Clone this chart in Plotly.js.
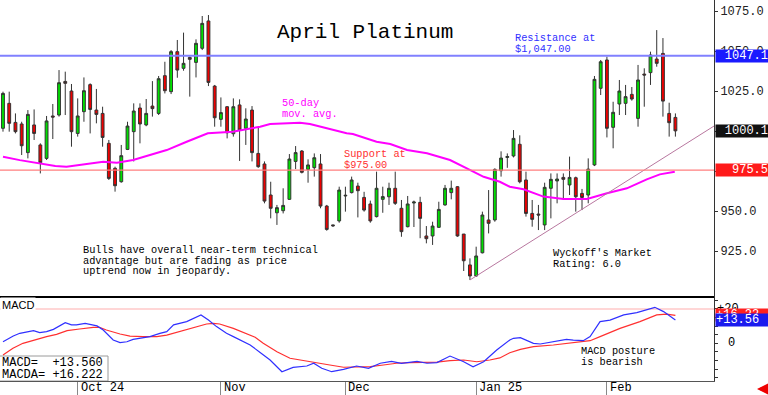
<!DOCTYPE html>
<html>
<head>
<meta charset="utf-8">
<script src="https://cdn.plot.ly/plotly-3.0.1.min.js"></script>
<style>html,body{margin:0;padding:0;background:#fff;}#chart{width:768px;height:395px;}</style>
</head>
<body>
<div id="chart"></div>
<script>
// ---------- DATA ----------
const candleIdx = Array.from({length: 109}, (_, i) => i + 1); // trading-day index (Sep 13 2024 .. Feb 19 2025)
const openP = [1001.7,1017.3,1005.4,1004.4,986.5,1003.8,991.3,982.9,1009.4,1010.0,1031.0,1025.0,998.5,1012.1,1029.0,1013.1,1011.0,992.3,976.7,968.3,
988.5,999.6,1014.4,1003.8,1015.6,1011.0,1034.6,1024.6,1049.6,1039.2,1046.0,1042.9,1051.7,1068.8,1028.1,1007.3,1015.2,998.3,1016.3,1001.7,
1013.1,986.0,979.4,960.0,948.9,950.2,957.3,981.0,987.5,976.0,977.1,979.4,953.1,941.3,943.8,959.4,961.5,965.6,958.5,954.4,
946.5,957.3,958.9,964.2,951.7,940.2,955.0,955.4,934.4,934.4,939.8,953.8,961.5,965.2,935.6,916.3,909.4,923.9,944.4,944.4,
975.2,983.5,984.4,991.7,969.4,948.5,948.1,941.3,964.2,968.8,971.0,966.3,970.8,961.0,960.0,978.8,1026.7,1044.4,1002.3,1016.9,
1017.3,1022.9,1007.9,1035.6,1036.5,1045.0,1048.5,1011.0,1008.5];
const highP = [1024.6,1024.6,1011.0,1005.8,1013.1,1013.5,992.3,1009.4,1016.9,1038.1,1037.1,1029.4,1020.4,1033.5,1029.8,1026.3,1015.2,994.4,977.7,991.3,
1005.8,1017.3,1017.3,1020.0,1031.2,1034.4,1043.3,1050.6,1056.9,1061.5,1046.5,1057.3,1071.9,1072.5,1028.8,1021.0,1015.6,1020.4,1019.8,1014.2,
1015.6,1002.7,981.0,968.3,953.8,964.2,985.6,990.6,988.1,982.3,986.0,985.6,953.8,941.5,965.2,965.2,971.5,967.7,962.0,956.5,
974.6,965.2,967.7,974.6,956.9,959.4,956.5,958.9,940.6,943.3,955.8,966.3,969.0,965.6,935.6,920.4,927.7,949.6,963.1,976.7,
987.3,986.0,1000.6,997.3,974.6,956.9,953.8,967.7,973.5,973.5,973.5,984.0,971.5,963.8,982.9,1034.4,1044.4,1046.5,1018.3,1031.9,
1028.8,1027.5,1041.3,1039.2,1049.6,1063.1,1058.1,1017.7,1011.0];
const lowP = [999.6,999.6,998.5,985.0,982.9,994.4,973.5,981.9,995.0,1009.0,1010.0,990.2,996.5,1005.8,998.5,1004.8,990.2,969.4,962.1,967.7,
988.1,981.0,992.3,1003.0,1009.0,1010.0,1023.5,1023.1,1033.3,1037.7,1021.5,1033.5,1050.6,1028.1,1002.7,1002.7,995.4,996.5,981.3,991.3,
981.0,977.0,954.8,945.4,941.3,948.5,956.9,976.2,973.5,967.7,971.5,951.7,937.7,940.0,942.7,949.6,961.0,946.0,949.6,942.7,
946.0,948.9,953.8,953.8,933.9,939.8,940.0,933.0,929.8,928.8,939.4,953.3,957.3,933.9,912.5,906.9,908.9,923.5,936.0,943.3,
971.5,977.0,983.5,967.3,946.5,940.2,938.1,938.1,945.4,954.8,956.9,960.0,949.6,950.6,954.8,978.1,1022.5,996.0,989.2,1010.0,
1010.0,1019.0,1002.7,1015.2,1028.8,1040.2,1009.0,996.5,996.5];
const closeP = [1023.5,1004.8,999.6,990.8,1010.4,998.5,980.2,1006.3,1008.7,1030.2,1029.8,999.6,1009.4,1025.2,1013.5,1010.4,996.0,970.4,965.8,984.6,
1003.1,1012.5,1004.4,1011.0,1014.0,1032.7,1025.2,1049.6,1038.1,1042.3,1044.8,1054.8,1067.3,1030.4,1008.3,1011.5,998.9,1015.2,1000.6,1007.5,
986.5,977.7,956.2,951.7,952.1,953.5,982.5,986.5,974.2,978.8,983.3,953.1,938.5,940.8,963.1,959.8,969.4,962.7,950.6,943.8,
964.2,959.0,964.2,954.8,937.1,954.4,955.6,945.4,932.7,940.6,951.0,964.2,964.2,934.4,918.9,909.4,921.9,947.5,942.3,976.0,
983.1,984.0,995.4,968.3,948.5,944.8,947.5,964.8,969.8,970.0,969.8,971.0,958.9,958.5,976.2,1032.3,1043.3,1001.7,1011.7,1025.0,
1021.5,1020.0,1031.9,1035.0,1047.5,1042.3,1018.7,1005.2,1000.1];

// 50-day moving average (read at sample points)
const maIdx = [1,3.7,9.4,11.2,17.1,19.3,21.9,26.2,27.3,30.5,33.9,37.9,42.3,43.9,48.7,50.3,56.2,57.2,61.0,63.2,65.9,69.1,72.8,75.5,78.2,80.8,82.4,84.6,87.8,91.0,94.8,98.0,101.2,104.4,106.5,108.9];
const maVal = [983.9,981.8,978.1,977.7,980.8,980.2,981.9,987.1,988.1,993.3,998.6,999.6,1002.7,1004.4,1005.2,1004.4,998.6,998.1,993.3,991.9,988.1,986.1,981.9,976.7,971.4,968.3,965.2,963.6,959.0,957.5,957.5,961.1,964.2,969.8,972.9,974.6];

// MACD (blue) and MACD average (red), read at sample points
const macdIdx = [1,2.65,3.7,4.8,5.9,6.9,8.0,9.1,11.0,12.0,12.8,14.2,15.5,16.1,17.1,18.7,19.8,20.9,21.9,23.5,24.6,26.2,27.3,28.4,30.5,32.8,34.0,35.3,36.9,38.0,39.6,40.7,42.3,43.9,45.8,47.6,49.8,50.9,52.2,53.8,55.7,57.8,59.7,61.6,63.4,65.0,67.5,69.1,70.7,72.8,75.0,76.5,78.2,80.3,82.4,83.0,84.1,86.2,87.3,89.4,91.5,92.6,94.2,95.3,96.9,98.5,100.7,102.8,104.9,105.7,107.1,109];
const macdVal = [0.9,4.2,5.8,6.8,7.4,6.2,6.8,8.1,12.0,10.7,10.7,11.6,10.7,10.1,7.7,1.9,0.4,0.9,2.3,3.5,3.9,5.8,6.8,10.7,12.6,16.5,13.5,9.7,5.8,3.9,0.9,-1.0,-5.3,-9.7,-16.5,-14.0,-13.2,-11.6,-14.5,-16.5,-15.1,-13.2,-14.5,-11.6,-10.5,-11.6,-10.5,-11.6,-11.2,-7.4,-10.7,-13.6,-10.7,-3.9,1.9,2.9,3.3,0.0,-0.4,1.0,2.3,1.9,1.5,3.9,12.6,13.5,16.5,17.8,20.3,20.9,18.4,13.56];
const sigIdx = [1,2.6,4.2,5.9,8.0,9.6,11.3,13.3,15.5,16.5,17.6,19.8,21.4,23.5,25.7,27.3,29.4,31.5,33.7,34.8,35.8,38.0,40.1,41.5,42.8,45.0,47.1,49.2,51.4,53.5,55.7,57.8,60.0,62.1,64.2,66.4,68.5,70.7,72.8,75.0,77.1,79.2,80.8,82.4,84.1,86.2,89.4,91.5,95.3,96.9,100.1,103.3,106.0,107.6,109];
const sigVal = [-6.8,-2.9,0.0,1.9,3.9,5.2,7.4,8.3,9.3,9.3,7.7,5.4,4.2,3.9,3.9,4.8,6.8,8.7,11.2,11.6,11.2,8.7,5.8,3.5,0.0,-4.9,-8.7,-10.1,-11.2,-12.6,-13.9,-13.9,-13.6,-12.6,-11.6,-11.2,-11.2,-10.9,-10.1,-9.7,-10.7,-9.7,-8.5,-5.5,-3.5,-1.9,-1.0,0.0,1.5,3.9,8.7,12.6,16.5,17.0,16.22];

// Reference levels and trendline
const resistance = 1047.1;
const support = 975.5;
const lastClose = 1000.1;
const macdLast = 13.56;
const macdAvgLast = 16.22;
const trendIdx = [76, 115.2];
const trendVal = [906.9, 1003.1];

// Axis labels (975.0 and 1000.0 are fully covered by value boxes in the reference)
const priceTicks = [925, 950, 975, 1000, 1025, 1050, 1075];
const priceTickText = ['925.0', '950.0', '', '', '1025.0', '1050.0', '1075.0'];
const monthIdx = [13, 36, 56, 77, 98];
const monthLabels = ['Oct 24', 'Nov', 'Dec', 'Jan 25', 'Feb'];

// ---------- CHART ----------
const MONO = 'Liberation Mono, DejaVu Sans Mono, monospace';
const PW = 714, PH = 381;
const px = x => x / PW;
const py = y => 1 - y / PH;
const split = 1 - 297 / PH;

function txt(text, x, y, size, color, extra) {
  return Object.assign({xref: 'paper', yref: 'paper', x: px(x), y: py(y), xanchor: 'left', yanchor: 'middle',
    showarrow: false, text: text, font: {family: MONO, size: size, color: color}}, extra || {});
}
function lines(arr, x, y0, step, size, color) {
  return arr.map((t, i) => txt(t, x, y0 + i * step, size, color));
}

const traces = [
  {type: 'candlestick', x: candleIdx, open: openP, high: highP, low: lowP, close: closeP,
   xaxis: 'x', yaxis: 'y', whiskerwidth: 0,
   increasing: {line: {color: '#333333', width: 1}, fillcolor: '#00e000'},
   decreasing: {line: {color: '#333333', width: 1}, fillcolor: '#ee0000'},
   hoverinfo: 'skip', showlegend: false},
  {type: 'scatter', mode: 'lines', x: maIdx, y: maVal, xaxis: 'x', yaxis: 'y',
   line: {color: '#ff00ff', width: 2}, hoverinfo: 'skip', showlegend: false},
  {type: 'scatter', mode: 'lines', x: trendIdx, y: trendVal, xaxis: 'x', yaxis: 'y',
   line: {color: '#b8779f', width: 1}, hoverinfo: 'skip', showlegend: false},
  {type: 'scatter', mode: 'lines', x: sigIdx, y: sigVal, xaxis: 'x', yaxis: 'y2',
   line: {color: '#ff3030', width: 1.2}, hoverinfo: 'skip', showlegend: false},
  {type: 'scatter', mode: 'lines', x: macdIdx, y: macdVal, xaxis: 'x', yaxis: 'y2',
   line: {color: '#3030ff', width: 1.2}, hoverinfo: 'skip', showlegend: false}
];

const annotations = [
  txt('April Platinum', 365, 32, 21, '#000', {xanchor: 'center'}),
  ...lines(['Resistance at', '$1,047.00'], 513, 38, 10.5, 10.3, '#3030ff'),
  ...lines(['50-day', 'mov. avg.'], 280, 103, 10.5, 10.3, '#ff00ff'),
  ...lines(['Support at', '$975.00'], 342, 154, 10.5, 10.3, '#ff3030'),
  ...lines(['Bulls have overall near-term technical', 'advantage but are fading as price', 'uptrend now in jeopardy.'], 81, 250, 10.6, 10.3, '#000'),
  ...lines(["Wyckoff's Market", 'Rating: 6.0'], 551, 253, 10.6, 10.3, '#000'),
  ...lines(['MACD posture', 'is bearish'], 579, 351, 10.6, 10.3, '#000'),
  txt('MACD', 0, 305, 11, '#000', {bgcolor: '#fff', font: {family: 'Liberation Sans, Arial, sans-serif', size: 11, color: '#000'}}),
  txt('MACD=\u00a0\u00a0+13.560', 0, 362.5, 12, '#000'),
  txt('MACDA=\u00a0+16.222', 0, 374.5, 12, '#000'),
  // right-side value boxes
  {xref: 'paper', yref: 'y', x: 1.0014, y: resistance, xanchor: 'left', yanchor: 'middle', showarrow: false,
   text: resistance.toFixed(1), bgcolor: '#1a1aff', width: 52, height: 12, align: 'right', borderpad: 0,
   font: {family: MONO, size: 12, color: '#fff'}},
  {xref: 'paper', yref: 'y', x: 1.0014, y: lastClose, xanchor: 'left', yanchor: 'middle', showarrow: false,
   text: lastClose.toFixed(1), bgcolor: '#111111', width: 52, height: 12, align: 'right', borderpad: 0,
   font: {family: MONO, size: 12, color: '#fff'}},
  {xref: 'paper', yref: 'y', x: 1.0014, y: support, xanchor: 'left', yanchor: 'middle', showarrow: false,
   text: support.toFixed(1), bgcolor: '#ff1a1a', width: 52, height: 12, align: 'right', borderpad: 0,
   font: {family: MONO, size: 12, color: '#fff'}},
  {xref: 'paper', yref: 'y2', x: 1.0014, y: 20, xanchor: 'left', yanchor: 'middle', showarrow: false,
   text: '+20', font: {family: MONO, size: 12, color: '#000'}},
  {xref: 'paper', yref: 'y2', x: px(737), y: 0, xanchor: 'right', yanchor: 'middle', showarrow: false,
   text: '0', font: {family: MONO, size: 12, color: '#000'}},
  {xref: 'paper', yref: 'y2', x: 1.0014, y: macdAvgLast, xanchor: 'left', yanchor: 'middle', showarrow: false,
   text: '+' + macdAvgLast.toFixed(2), bgcolor: '#ff2020', width: 52, height: 12, align: 'left', borderpad: 0,
   font: {family: MONO, size: 12, color: '#fff'}},
  {xref: 'paper', yref: 'y2', x: 1.0014, y: macdLast, xanchor: 'left', yanchor: 'middle', showarrow: false,
   text: '+' + macdLast.toFixed(2), bgcolor: '#1a1aee', width: 52, height: 12, align: 'left', borderpad: 0,
   font: {family: MONO, size: 12, color: '#fff'}},
  // red arrow bottom right
  {xref: 'paper', yref: 'paper', x: px(757), y: py(389), ax: 10, ay: 0, text: '', showarrow: true,
   arrowhead: 2, arrowsize: 0.9, arrowwidth: 3, arrowcolor: '#ee0000'}
];
monthIdx.forEach((m, i) => {
  annotations.push({xref: 'x', yref: 'paper', x: m, xshift: 1, y: py(388), xanchor: 'left', yanchor: 'middle',
    showarrow: false, text: monthLabels[i], font: {family: MONO, size: 12, color: '#000'}});
});

const shapes = [
  {type: 'line', xref: 'paper', yref: 'y', x0: 0, x1: 1, y0: resistance, y1: resistance, line: {color: '#8080ff', width: 2}},
  {type: 'line', xref: 'paper', yref: 'y', x0: 0, x1: 1, y0: support, y1: support, line: {color: '#ff7f7f', width: 1.2}},
  {type: 'line', xref: 'paper', yref: 'y2', x0: 0, x1: 1, y0: 20, y1: 20, line: {color: '#ffd6d6', width: 2}, layer: 'below'},
  {type: 'line', xref: 'paper', yref: 'paper', x0: 0, x1: 1, y0: split, y1: split, line: {color: '#000', width: 2}},
  {type: 'rect', xref: 'paper', yref: 'paper', x0: px(-2), x1: px(108), y0: py(381), y1: py(356),
   line: {color: '#9a9a9a', width: 1}, fillcolor: 'rgba(255,255,255,1)', layer: 'below'}
];

const layout = {
  width: 768, height: 395,
  margin: {l: 0, r: 54, t: 0, b: 14, pad: 0},
  paper_bgcolor: '#fff', plot_bgcolor: '#fff',
  showlegend: false,
  boxgap: 0.35,
  xaxis: {domain: [0, 1], anchor: 'y2', range: [0.52, 115.2], showgrid: false, zeroline: false,
    showline: true, linecolor: '#555', linewidth: 1,
    tickmode: 'array', tickvals: monthIdx, ticks: 'outside', ticklen: 14, tickcolor: '#888', tickwidth: 1,
    showticklabels: false, rangeslider: {visible: false}, fixedrange: true},
  yaxis: {domain: [split, 1], anchor: 'x', side: 'right', range: [896.25, 1081.9], showgrid: false, zeroline: false,
    showline: true, linecolor: '#333', linewidth: 1,
    tickmode: 'array', tickvals: priceTicks, ticktext: priceTickText, ticks: 'outside', ticklen: 3, tickcolor: '#333',
    tickfont: {family: MONO, size: 12, color: '#222'}, fixedrange: true},
  yaxis2: {domain: [0, split], anchor: 'x', side: 'right', range: [-21.9, 26.9], showgrid: false, zeroline: false,
    showline: true, linecolor: '#333', linewidth: 1,
    tickmode: 'linear', tick0: 0, dtick: 5, ticks: 'outside', ticklen: 3, tickcolor: '#333',
    showticklabels: false, fixedrange: true},
  annotations: annotations,
  shapes: shapes
};

Plotly.newPlot('chart', traces, layout, {staticPlot: true, displayModeBar: false});
</script>
</body>
</html>
